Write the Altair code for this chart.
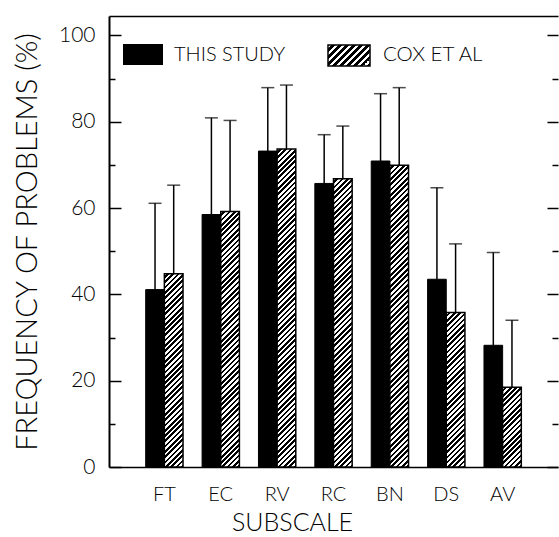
import altair as alt
import pandas as pd

# ---------------- data ----------------
categories = ["FT", "EC", "RV", "RC", "BN", "DS", "AV"]
series_names = ["THIS STUDY", "COX ET AL"]
this_study_mean = [41.1, 58.5, 73.2, 65.7, 70.9, 43.5, 28.2]
this_study_sd = [20.0, 22.4, 14.7, 11.3, 15.6, 21.2, 21.5]
cox_mean = [44.8, 59.2, 73.7, 66.8, 69.9, 35.8, 18.5]
cox_sd = [20.5, 21.1, 14.8, 12.2, 18.0, 15.9, 15.5]
major_ticks = [0, 20, 40, 60, 80, 100]
minor_ticks = [10, 30, 50, 70, 90]

# ---------------- layout constants ----------------
W, H = 449, 451
YMAX = 104.5
PAD_INNER, PAD_OUTER = 0.338, 0.651
FONT = "Lato"
FW = 300

rows = []
for c, m, s in zip(categories, this_study_mean, this_study_sd):
    rows.append({"cat": c, "series": series_names[0], "mean": m, "sd": s})
for c, m, s in zip(categories, cox_mean, cox_sd):
    rows.append({"cat": c, "series": series_names[1], "mean": m, "sd": s})
df = pd.DataFrame(rows)
legend_df = pd.DataFrame({"label": series_names})

# bar geometry in pixels (used only to orient the hatch gradient)
step = W / (len(categories) - PAD_INNER + 2 * PAD_OUTER)
bar_w = step * (1 - PAD_INNER) / 2


def hatch(w, h, period):
    k = (w + h) / (w * w + h * h)
    n = max(1, int(round((w + h) / period)))
    stops = []
    for i in range(n):
        o0, o1, o2 = i / n, (i + 0.5) / n, (i + 1) / n
        stops += [
            {"offset": o0, "color": "white"},
            {"offset": o1, "color": "white"},
            {"offset": o1, "color": "black"},
            {"offset": o2, "color": "black"},
        ]
    return {"gradient": "linear", "x1": 0, "y1": 0, "x2": w * k, "y2": h * k, "stops": stops}


def X(axis=None):
    return alt.X("cat:N", sort=categories,
                 scale=alt.Scale(domain=categories, paddingInner=PAD_INNER, paddingOuter=PAD_OUTER),
                 axis=axis, title=None)


XO = alt.XOffset("series:N", sort=series_names,
                 scale=alt.Scale(domain=series_names, paddingInner=0, paddingOuter=0))


def Y(field, axis=None):
    return alt.Y(field, type="quantitative",
                 scale=alt.Scale(domain=[0, YMAX], nice=False, zero=True), axis=axis, title=None)


axis_bottom = alt.Axis(orient="bottom", domain=True, domainColor="black", domainWidth=1.5,
                       ticks=True, tickSize=0, labelPadding=17, labelFontSize=20, labelFont=FONT,
                       labelFontWeight=FW, labelColor="black", labelAngle=0,
                       title="SUBSCALE", titleFontSize=25, titleFont=FONT, titleFontWeight=FW,
                       titleColor="black", titlePadding=6, titleX=183, titleAlign="center",
                       titleAnchor="start")
axis_top = alt.Axis(orient="top", domain=True, domainColor="black", domainWidth=1.5,
                    ticks=False, labels=False, title=None)
axis_left_labels = alt.Axis(orient="left", values=major_ticks, domain=True, domainColor="black",
                            domainWidth=2, ticks=True, tickSize=0, labelPadding=14,
                            labelFontSize=21, labelFont=FONT, labelFontWeight=FW,
                            labelColor="black", labelFlush=False,
                            title="FREQUENCY OF PROBLEMS (%)", titleFontSize=29, titleFont=FONT,
                            titleFontWeight=FW, titleColor="black", titlePadding=16)


def tick_axis(orient, values, size):
    return alt.Axis(orient=orient, values=values, domain=False, labels=False, ticks=True,
                    tickSize=size, tickWidth=1.5, tickColor="black", offset=-size, title=None)


extra_axes = [
    tick_axis("left", major_ticks, 12),
    tick_axis("left", minor_ticks, 6),
    tick_axis("right", major_ticks, 11),
    tick_axis("right", minor_ticks, 6),
]

base = alt.Chart(df).transform_calculate(upper="datum.mean + datum.sd")

layers = []

# error bars
layers.append(
    base.mark_rule(color="black", strokeWidth=1.5).encode(
        x=X(axis_top), xOffset=XO, y=Y("mean"), y2="upper:Q")
)
layers.append(
    base.mark_tick(color="black", thickness=1.5, size=13).encode(
        x=X(), xOffset=XO, y=Y("upper"))
)

# black bars
layers.append(
    base.transform_filter(alt.datum.series == series_names[0])
    .mark_bar(fill="black", stroke="black", strokeWidth=1)
    .encode(x=X(axis_bottom), xOffset=XO, y=Y("mean", axis_left_labels))
)

# hatched bars (one layer per bar so each gets its own hatch orientation)
for i, (c, m) in enumerate(zip(categories, cox_mean)):
    h_px = m / YMAX * H
    ax = extra_axes[i] if i < len(extra_axes) else None
    layers.append(
        base.transform_filter((alt.datum.series == series_names[1]) & (alt.datum.cat == c))
        .mark_bar(fill=hatch(bar_w, h_px, 5.3), stroke="black", strokeWidth=1.5)
        .encode(x=X(), xOffset=XO, y=Y("mean", ax))
    )

# legend (drawn by hand)
leg = alt.Chart(legend_df)
layers.append(
    leg.transform_filter(alt.datum.label == series_names[0])
    .mark_rect(fill="black")
    .encode(x=alt.value(14), x2=alt.value(54), y=alt.value(28), y2=alt.value(49))
)
layers.append(
    leg.transform_filter(alt.datum.label == series_names[1])
    .mark_rect(fill=hatch(42, 21, 7), stroke="black", strokeWidth=1.5)
    .encode(x=alt.value(219), x2=alt.value(261), y=alt.value(29), y2=alt.value(50))
)
layers.append(
    leg.transform_filter(alt.datum.label == series_names[0])
    .mark_text(align="left", baseline="middle", fontSize=20, font=FONT, fontWeight=FW, color="black")
    .encode(x=alt.value(65), y=alt.value(39), text="label:N")
)
layers.append(
    leg.transform_filter(alt.datum.label == series_names[1])
    .mark_text(align="left", baseline="middle", fontSize=20.5, font=FONT, fontWeight=FW, color="black")
    .encode(x=alt.value(274), y=alt.value(39), text="label:N")
)

chart = (
    alt.layer(*layers)
    .resolve_axis(x="independent", y="independent")
    .properties(width=W, height=H,
                autosize=alt.AutoSizeParams(type="none"),
                padding={"left": 109, "top": 16, "right": 1, "bottom": 70},
                background="white")
    .configure_view(stroke=None)
    .configure_axis(grid=False)
)

chart.save("out.html", embed_options={"renderer": "svg", "actions": False})
